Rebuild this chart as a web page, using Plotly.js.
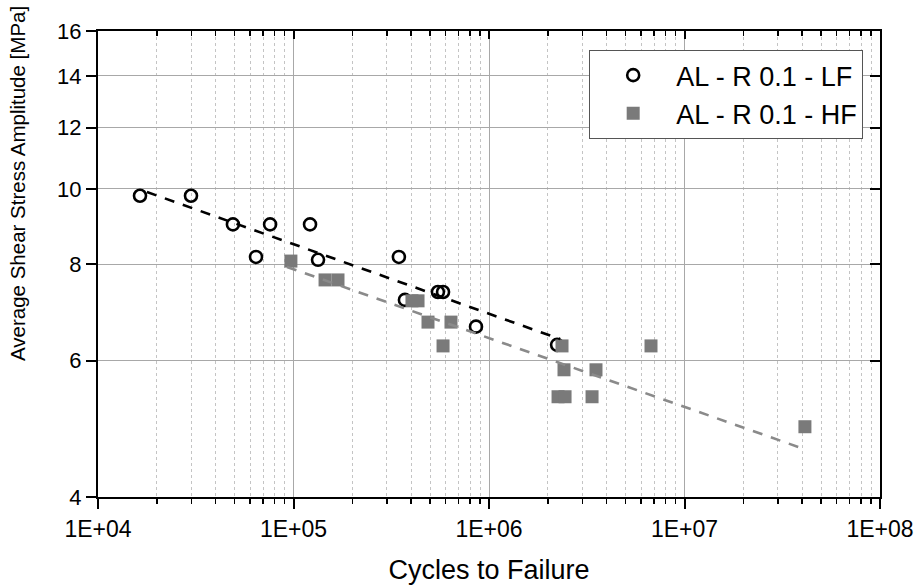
<!DOCTYPE html>
<html>
<head>
<meta charset="utf-8">
<script src="https://cdn.plot.ly/plotly-3.0.1.min.js"></script>
<style>
html,body{margin:0;padding:0;background:#fff;}
#chart{width:919px;height:585px;}
</style>
</head>
<body>
<div id="chart"></div>
<script>
// LF series (open circles)
const lfCycles = [16400, 29900, 49000, 64300, 75900, 121500, 133500, 346000, 371500, 548000, 582000, 858000, 2230000];
const lfStress = [9.8, 9.8, 9.0, 8.17, 9.0, 9.0, 8.1, 8.17, 7.19, 7.36, 7.36, 6.64, 6.29];
// HF series (grey squares)
const hfCycles = [97000, 145000, 168900, 403600, 433500, 487500, 639000, 582000, 2363000, 2419000, 3526000, 2255000, 2449000, 3366000, 6740000, 41300000];
const hfStress = [8.07, 7.63, 7.63, 7.17, 7.17, 6.73, 6.73, 6.27, 6.27, 5.84, 5.84, 5.39, 5.39, 5.39, 6.27, 4.93];
// Fit lines (end points)
const lfFitCycles = [17800, 2307000];
const lfFitStress = [9.91, 6.40];
const hfFitCycles = [92600, 41300000];
const hfFitStress = [7.93, 4.61];
// Axis ticks
const xTickVals = [1e4, 1e5, 1e6, 1e7, 1e8];
const xTickText = ['1E+04', '1E+05', '1E+06', '1E+07', '1E+08'];
const yTickVals = [4, 6, 8, 10, 12, 14, 16];
const yTickText = ['4', '6', '8', '10', '12', '14', '16'];
const seriesNames = ['AL - R 0.1 - LF', 'AL - R 0.1 - HF'];
const xTitle = 'Cycles to Failure';
const yTitle = 'Average Shear Stress Amplitude [MPa]';

const minorVals = [];
for (let d = 4; d < 8; d++) for (let m = 2; m <= 9; m++) minorVals.push(m * Math.pow(10, d));

const FONT = '"Liberation Sans", Arial, sans-serif';
const GREY = '#7a7a7a';

const traces = [
  {x: lfCycles, y: lfStress, type: 'scatter', mode: 'markers', name: seriesNames[0],
   marker: {symbol: 'circle-open', size: 12, color: '#000', line: {width: 2.6, color: '#000'}}},
  {x: hfCycles, y: hfStress, type: 'scatter', mode: 'markers', name: seriesNames[1],
   marker: {symbol: 'square', size: 13, color: GREY, line: {width: 0}}},
  {x: hfFitCycles, y: hfFitStress, type: 'scatter', mode: 'lines', showlegend: false,
   line: {color: '#8a8a8a', width: 2.6, dash: '10px,9px'}},
  {x: lfFitCycles, y: lfFitStress, type: 'scatter', mode: 'lines', showlegend: false,
   line: {color: '#000', width: 2.6, dash: '10px,9px'}},
  {x: [1e5], y: [8], xaxis: 'x2', yaxis: 'y2', type: 'scatter', mode: 'markers',
   showlegend: false, hoverinfo: 'skip', marker: {opacity: 0}}
];

const xr = [4, 8];
const yr = [Math.log10(4), Math.log10(16)];

const layout = {
  width: 919, height: 585,
  margin: {l: 98, r: 39, t: 31, b: 88},
  paper_bgcolor: '#fff', plot_bgcolor: '#fff',
  font: {family: FONT, color: '#000', size: 21},
  showlegend: true,
  legend: {x: 0.9785, y: 0.959, xanchor: 'right', yanchor: 'top',
    bgcolor: '#fff', bordercolor: '#555', borderwidth: 1,
    font: {family: FONT, size: 27, color: '#000'}, tracegroupgap: 0, itemwidth: 76},
  xaxis: {
    type: 'log', range: xr, tickmode: 'array', tickvals: xTickVals, ticktext: xTickText,
    ticks: 'outside', ticklen: 10, tickwidth: 2, tickcolor: '#000',
    showline: true, linecolor: '#000', linewidth: 2, mirror: false,
    showgrid: true, gridcolor: '#a8a8a8', gridwidth: 1, zeroline: false,
    tickfont: {family: FONT, size: 23},
    minor: {tickmode: 'array', tickvals: minorVals, ticks: 'outside', ticklen: 5, tickwidth: 1.5, tickcolor: '#000',
      showgrid: true, gridcolor: '#c4c4c4', griddash: 'dot', gridwidth: 1},
    title: {text: xTitle, font: {family: FONT, size: 27}, standoff: 24}
  },
  yaxis: {
    type: 'log', range: yr, tickmode: 'array', tickvals: yTickVals, ticktext: yTickText,
    ticks: 'outside', ticklen: 10, tickwidth: 2, tickcolor: '#000',
    showline: true, linecolor: '#000', linewidth: 2,
    showgrid: true, gridcolor: '#a8a8a8', gridwidth: 1, zeroline: false,
    tickfont: {family: FONT, size: 22}
  },
  xaxis2: {
    type: 'log', range: xr, overlaying: 'x', side: 'top', anchor: 'y2',
    tickmode: 'array', tickvals: xTickVals, showticklabels: false,
    ticks: 'inside', ticklen: 8, tickwidth: 2, tickcolor: '#000',
    showline: true, linecolor: '#000', linewidth: 2, showgrid: false, zeroline: false,
    minor: {tickmode: 'array', tickvals: minorVals, ticks: 'inside', ticklen: 5, tickwidth: 1.5, tickcolor: '#000', showgrid: false}
  },
  yaxis2: {
    type: 'log', range: yr, overlaying: 'y', side: 'right', anchor: 'x2',
    tickmode: 'array', tickvals: yTickVals, showticklabels: false,
    ticks: 'inside', ticklen: 10, tickwidth: 2, tickcolor: '#000',
    showline: true, linecolor: '#000', linewidth: 2, showgrid: false, zeroline: false
  },
  annotations: [
    {text: yTitle, xref: 'paper', yref: 'paper', x: -0.1023, y: 0.6717,
     xanchor: 'center', yanchor: 'middle', textangle: -90, showarrow: false,
     font: {family: FONT, size: 20.5, color: '#000'}}
  ]
};

Plotly.newPlot('chart', traces, layout, {displayModeBar: false, staticPlot: true});
</script>
</body>
</html>
